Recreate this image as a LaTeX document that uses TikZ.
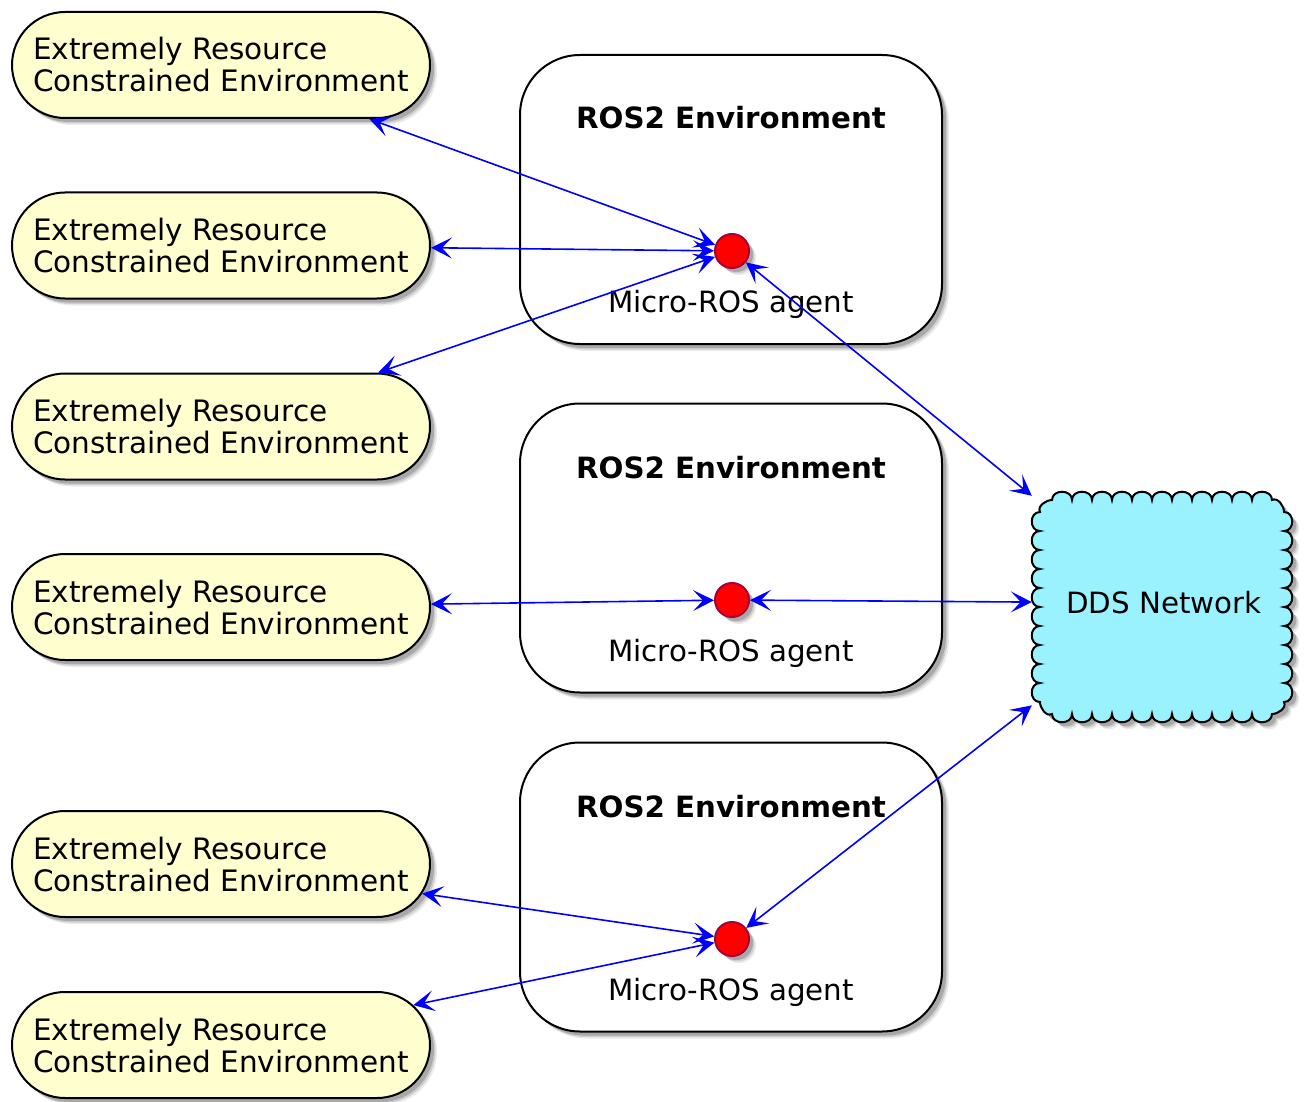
\documentclass[tikz,border=0pt]{standalone}
\usepackage{fontspec}
\setmainfont{DejaVu Sans}
\usetikzlibrary{shapes.misc,shadows,arrows.meta}
\definecolor{usecasefill}{HTML}{FEFECE}
\definecolor{agentborder}{HTML}{A80036}
\definecolor{cloudfill}{HTML}{9AF2FF}
\begin{document}
\begin{tikzpicture}[x=1pt,y=-1pt,
  shade/.style={
    drop shadow={shadow xshift=7pt,shadow yshift=-7pt,opacity=0.08,fill=black},
    drop shadow={shadow xshift=5.5pt,shadow yshift=-5.5pt,opacity=0.12,fill=black},
    drop shadow={shadow xshift=4pt,shadow yshift=-4pt,opacity=0.18,fill=black}},
  usecase/.style={rounded rectangle, draw=black, line width=2pt, fill=usecasefill,
    minimum width=418pt, minimum height=106pt, inner sep=0pt, align=left,
    font=\fontsize{29.5}{32}\selectfont, shade},
  envbox/.style={rectangle, rounded corners=60pt, draw=black, line width=2pt, fill=white,
    minimum width=422pt, minimum height=289pt, shade},
  agent/.style={circle, draw=agentborder, line width=2pt, fill=red, minimum size=34pt,
    inner sep=0pt, shade},
  envtitle/.style={anchor=base, font=\fontsize{29.3}{32}\selectfont\bfseries},
  agentlbl/.style={anchor=base, font=\fontsize{29.3}{32}\selectfont},
  cloudline/.style={draw=black, line width=2pt, fill=cloudfill},
  link/.style={draw=blue, line width=1.6pt,
    {Stealth[length=21pt,width=21pt,inset=10pt]}-{Stealth[length=21pt,width=21pt,inset=10pt]}}
]
\useasboundingbox (0,0) rectangle (1304,1102);

% ROS2 environments
\node[envbox] (b1) at (731,199.5) {};
\node[envbox] (b2) at (731,548) {};
\node[envbox] (b3) at (731,887) {};
\node[envtitle] (t1) at (731,129) {ROS2 Environment};
\node[envtitle] (t2) at (731,478) {ROS2 Environment};
\node[envtitle] (t3) at (731,817) {ROS2 Environment};
\node[agentlbl] (l1) at (731,312) {Micro-ROS agent};
\node[agentlbl] (l2) at (731,661) {Micro-ROS agent};
\node[agentlbl] (l3) at (731,1000) {Micro-ROS agent};

% use cases
\node[usecase] (e1) at (221,65) {Extremely Resource\\Constrained Environment};
\node[usecase] (e2) at (221,245.5) {Extremely Resource\\Constrained Environment};
\node[usecase] (e3) at (221,426.5) {Extremely Resource\\Constrained Environment};
\node[usecase] (e4) at (221,607) {Extremely Resource\\Constrained Environment};
\node[usecase] (e5) at (221,864) {Extremely Resource\\Constrained Environment};
\node[usecase] (e6) at (221,1045) {Extremely Resource\\Constrained Environment};

% DDS cloud
\draw[cloudline, shade] (1052,500)
  \foreach \i in {1,...,11} { .. controls +(0,-11) and +(0,-11) .. ++(20,0) }
  .. controls +(6,-3) and +(0,-6) .. ++(12,12)
  \foreach \i in {1,...,10} { .. controls +(11,0) and +(11,0) .. ++(0,19) }
  .. controls +(3,6) and +(6,0) .. ++(-12,12)
  \foreach \i in {1,...,11} { .. controls +(0,11) and +(0,11) .. ++(-20,0) }
  .. controls +(-6,3) and +(0,6) .. ++(-12,-12)
  \foreach \i in {1,...,10} { .. controls +(-11,0) and +(-11,0) .. ++(0,-19) }
  .. controls +(-3,-6) and +(-6,0) .. ++(12,-12)
  -- cycle;
\node[rectangle, minimum width=264pt, minimum height=226pt, inner sep=0pt,
  font=\fontsize{29.3}{32}\selectfont] (dds) at (1164,603) {DDS Network};

% agents
\node[agent] (a1) at (732,251) {};
\node[agent] (a2) at (732,600) {};
\node[agent] (a3) at (732,939) {};

% links
\draw[link] (e1) -- (a1);
\draw[link] (e2) -- (a1);
\draw[link] (e3) -- (a1);
\draw[link] (a1) -- (dds);
\draw[link] (e4) -- (a2);
\draw[link] (a2) -- (dds);
\draw[link] (e5) -- (a3);
\draw[link] (e6) -- (a3);
\draw[link] (a3) -- (dds);
\end{tikzpicture}
\end{document}
